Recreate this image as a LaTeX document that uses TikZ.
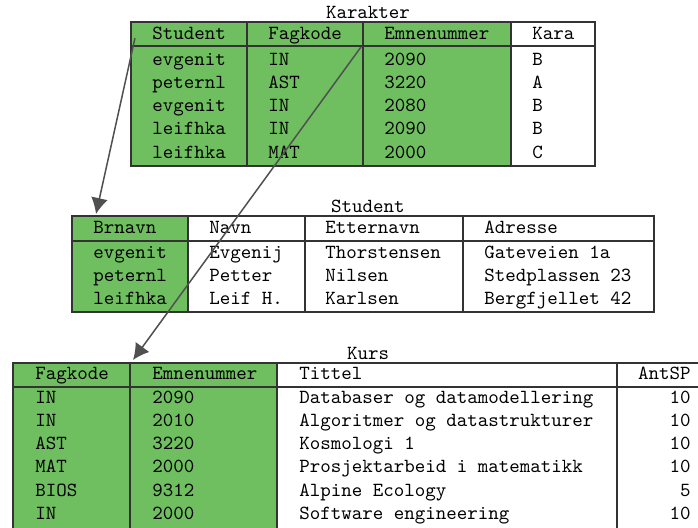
\documentclass[tikz,border=0pt]{standalone}
\usetikzlibrary{arrows.meta}

\definecolor{keygreen}{RGB}{111,191,96}
\definecolor{linkgray}{RGB}{80,80,80}

\begin{document}
\begin{tikzpicture}[x=0.5pt, y=-0.5pt,
        cell/.style={anchor=base west, inner sep=0pt, font=\ttfamily},
        rcell/.style={anchor=base east, inner sep=0pt, font=\ttfamily},
        tabtitle/.style={anchor=base, inner sep=0pt, font=\ttfamily},
        tabline/.style={draw=black!80, line width=0.65pt},
        link/.style={draw=linkgray, line width=0.75pt, -{Latex[length=8pt,width=8.5pt]}}]
        \useasboundingbox (0,0) rectangle (698,527);
        \fill[white] (0,0) rectangle (698,527);
        \clip (0,0) rectangle (698,527);

        % Karakter
        \fill[keygreen] (131,22) rectangle (511,166);
        \draw[tabline] (131,22) rectangle (595,166);
        \draw[tabline] (131,46) -- (595,46);
        \foreach \x in {247,363,511} \draw[tabline] (\x,22) -- (\x,166);
        \node[tabtitle] (kar) at (368,18) {Karakter};
        \node[cell] (karh1) at (152,39) {Student};
        \node[cell] (karh2) at (268,39) {Fagkode};
        \node[cell] (karh3) at (384,39) {Emnenummer};
        \node[cell] (karh4) at (532,39) {Kara};
        \foreach \a/\b/\c/\d [count=\i] in {evgenit/IN/2090/B, peternl/AST/3220/A,
                evgenit/IN/2080/B, leifhka/IN/2090/B, leifhka/MAT/2000/C} {
                \node[cell] (kar\i a) at (152,{65+23.33*(\i-1)}) {\a};
                \node[cell] (kar\i b) at (268,{65+23.33*(\i-1)}) {\b};
                \node[cell] (kar\i c) at (384,{65+23.33*(\i-1)}) {\c};
                \node[cell] (kar\i d) at (532,{65+23.33*(\i-1)}) {\d};
        }

        % Student
        \fill[keygreen] (72,216) rectangle (188,312);
        \draw[tabline] (72,216) rectangle (654,312);
        \draw[tabline] (72,241) -- (654,241);
        \foreach \x in {188,305,463} \draw[tabline] (\x,216) -- (\x,312);
        \node[tabtitle] (stu) at (368,212) {Student};
        \node[cell] (stuh1) at (93,233) {Brnavn};
        \node[cell] (stuh2) at (209,233) {Navn};
        \node[cell] (stuh3) at (325,233) {Etternavn};
        \node[cell] (stuh4) at (484,233) {Adresse};
        \foreach \a/\b/\c/\d [count=\i] in {evgenit/Evgenij/Thorstensen/Gateveien 1a,
                peternl/Petter/Nilsen/Stedplassen 23, leifhka/Leif H./Karlsen/Bergfjellet 42} {
                \node[cell] (stu\i a) at (93,{258+23.33*(\i-1)}) {\a};
                \node[cell] (stu\i b) at (209,{258+23.33*(\i-1)}) {\b};
                \node[cell] (stu\i c) at (325,{258+23.33*(\i-1)}) {\c};
                \node[cell] (stu\i d) at (484,{258+23.33*(\i-1)}) {\d};
        }

        % Kurs
        \fill[keygreen] (13,363) rectangle (277,560);
        \draw[tabline] (13,363) rectangle (723,560);
        \draw[tabline] (13,387) -- (723,387);
        \foreach \x in {130,277,617} \draw[tabline] (\x,363) -- (\x,560);
        \node[tabtitle] (kurs) at (368,359) {Kurs};
        \node[cell] (kursh1) at (35,379) {Fagkode};
        \node[cell] (kursh2) at (152,379) {Emnenummer};
        \node[cell] (kursh3) at (299,379) {Tittel};
        \node[rcell] (kursh4) at (691,379) {AntSP};
        \foreach \a/\b/\c/\d [count=\i] in {IN/2090/Databaser og datamodellering/10,
                IN/2010/Algoritmer og datastrukturer/10, AST/3220/Kosmologi 1/10,
                MAT/2000/Prosjektarbeid i matematikk/10, BIOS/9312/Alpine Ecology/5,
                IN/2000/Software engineering/10} {
                \node[cell] (kurs\i a) at (35,{403+23.33*(\i-1)}) {\a};
                \node[cell] (kurs\i b) at (152,{403+23.33*(\i-1)}) {\b};
                \node[cell] (kurs\i c) at (299,{403+23.33*(\i-1)}) {\c};
                \node[rcell] (kurs\i d) at (691,{403+23.33*(\i-1)}) {\d};
        }

        % foreign keys
        \coordinate (karstud) at (135,38);
        \coordinate (karemne) at (361,47);
        \coordinate (stubrn) at (96,214);
        \coordinate (kursemne) at (133,360);
        \draw[link] (karstud) -- (stubrn);
        \draw[link] (karemne) -- (kursemne);
\end{tikzpicture}
\end{document}
